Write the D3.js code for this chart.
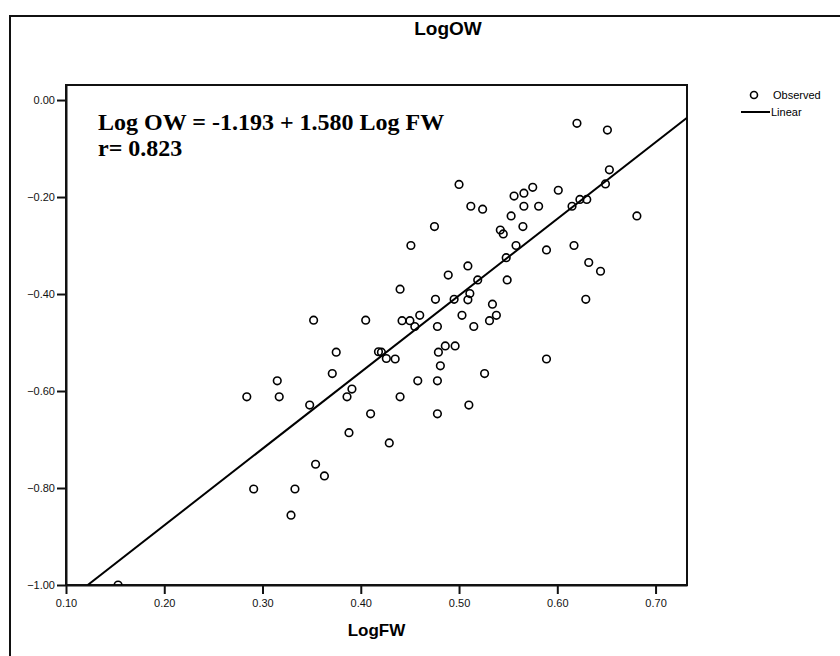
<!DOCTYPE html>
<html>
<head>
<meta charset="utf-8">
<script src="https://cdn.jsdelivr.net/npm/d3@7"></script>
<style>
    body { margin: 0; background: #fff; }
    .axis text { font-family: 'Liberation Sans', Arial, sans-serif; font-size: 11px; fill: #111; }
    .axis path, .axis line { stroke: #111; stroke-width: 2px; }
</style>
</head>
<body>
<div id="chart"></div>
<script>
const logFW = [0.620, 0.651, 0.500, 0.653, 0.649, 0.601, 0.575, 0.566, 0.556, 0.512,
    0.524, 0.566, 0.581, 0.615, 0.623, 0.630, 0.553, 0.681, 0.475, 0.565,
    0.542, 0.545, 0.451, 0.558, 0.589, 0.617, 0.548, 0.632, 0.644, 0.509,
    0.489, 0.519, 0.549, 0.440, 0.476, 0.495, 0.511, 0.509, 0.629, 0.534,
    0.538, 0.531, 0.503, 0.515, 0.478, 0.460, 0.450, 0.442, 0.455, 0.352,
    0.405, 0.375, 0.418, 0.421, 0.426, 0.435, 0.315, 0.371, 0.284, 0.317,
    0.348, 0.391, 0.386, 0.440, 0.410, 0.388, 0.429, 0.354, 0.363, 0.291,
    0.333, 0.329, 0.153, 0.486, 0.496, 0.479, 0.481, 0.589, 0.458, 0.478,
    0.526, 0.510, 0.478]
const logOW = [-0.048, -0.062, -0.174, -0.144, -0.173, -0.186, -0.180, -0.192, -0.198, -0.219,
    -0.225, -0.219, -0.219, -0.219, -0.205, -0.205, -0.239, -0.239, -0.261, -0.261,
    -0.268, -0.276, -0.300, -0.300, -0.309, -0.300, -0.325, -0.335, -0.353, -0.342,
    -0.361, -0.371, -0.371, -0.390, -0.411, -0.411, -0.399, -0.412, -0.411, -0.421,
    -0.444, -0.455, -0.444, -0.467, -0.467, -0.444, -0.455, -0.455, -0.467, -0.454,
    -0.454, -0.520, -0.519, -0.520, -0.533, -0.534, -0.579, -0.564, -0.612, -0.612,
    -0.629, -0.596, -0.612, -0.612, -0.647, -0.686, -0.707, -0.751, -0.775, -0.802,
    -0.802, -0.856, -1.000, -0.507, -0.507, -0.520, -0.548, -0.534, -0.579, -0.579,
    -0.564, -0.629, -0.647]

// linear fit shown on the chart
const intercept = -1.193
const slope = 1.580
const r = 0.823

const xTicks = [0.10, 0.20, 0.30, 0.40, 0.50, 0.60, 0.70]
const yTicks = [0.00, -0.20, -0.40, -0.60, -0.80, -1.00]

const data = logFW.map((d, i) => ({ fw: d, ow: logOW[i] }))

const margin = { top: 85, right: 153, bottom: 71, left: 66 }
const width = 840 - margin.left - margin.right
const height = 656 - margin.top - margin.bottom

const root = d3.select('#chart')
    .append('svg')
    .attr('width', 840)
    .attr('height', 656)

//outer frame
root.append('rect')
    .attr('x', 10)
    .attr('y', 16)
    .attr('width', 840)
    .attr('height', 700)
    .attr('fill', 'none')
    .attr('stroke', '#111')
    .attr('stroke-width', 2)

const svg = root.append('g')
    .attr('transform', `translate(${margin.left}, ${margin.top})`)

const xScale = d3.scaleLinear().domain([0.10, 0.732]).range([0, width])
const yScale = d3.scaleLinear().domain([-1.00, 0.031]).range([height, 0])

svg.append('clipPath')
    .attr('id', 'plot-clip')
    .append('rect')
    .attr('width', width)
    .attr('height', height)

//append xaxis to chart
svg.append('g')
    .attr('class', 'axis')
    .attr('transform', 'translate(0,' + height + ')')
    .call(d3.axisBottom(xScale).tickValues(xTicks).tickFormat(d3.format('.2f')).tickSize(9).tickSizeOuter(0).tickPadding(5))

//append yaxis to chart
svg.append('g')
    .attr('class', 'axis')
    .call(d3.axisLeft(yScale).tickValues(yTicks).tickFormat(d3.format('.2f')).tickSize(9).tickSizeOuter(0).tickPadding(2))

//plot frame
svg.append('rect')
    .attr('width', width)
    .attr('height', height)
    .attr('fill', 'none')
    .attr('stroke', '#111')
    .attr('stroke-width', 2)

//fit line
const x0 = (-1.00 - intercept) / slope
const x1 = 0.732
svg.append('path')
    .datum([x0, x1])
    .attr('clip-path', 'url(#plot-clip)')
    .attr('fill', 'none')
    .attr('stroke', '#000')
    .attr('stroke-width', 2)
    .attr('d', d3.line().x(d => xScale(d)).y(d => yScale(intercept + slope * d)))

//observed points
svg.append('g')
    .attr('clip-path', 'url(#plot-clip)')
    .selectAll('circle')
    .data(data)
    .join('circle')
    .attr('cx', d => xScale(d.fw))
    .attr('cy', d => yScale(d.ow))
    .attr('r', 3.8)
    .attr('fill', 'none')
    .attr('stroke', '#000')
    .attr('stroke-width', 1.6)

//equation text
svg.append('text')
    .attr('x', 32)
    .attr('y', 45)
    .style('font-family', "'Liberation Serif', 'Times New Roman', serif")
    .style('font-weight', 'bold')
    .style('font-size', '24px')
    .text(`Log OW = ${intercept} + ${slope.toFixed(3)} Log FW`)

svg.append('text')
    .attr('x', 32)
    .attr('y', 71)
    .style('font-family', "'Liberation Serif', 'Times New Roman', serif")
    .style('font-weight', 'bold')
    .style('font-size', '24px')
    .text(`r= ${r}`)

//append title
root.append('text')
    .attr('x', 448)
    .attr('y', 35)
    .attr('text-anchor', 'middle')
    .style('font-family', "'Liberation Sans', Arial, sans-serif")
    .style('font-weight', 'bold')
    .style('font-size', '19px')
    .text('LogOW')

//append x label
root.append('text')
    .attr('x', margin.left + width / 2)
    .attr('y', 636)
    .attr('text-anchor', 'middle')
    .style('font-family', "'Liberation Sans', Arial, sans-serif")
    .style('font-weight', 'bold')
    .style('font-size', '17px')
    .text('LogFW')

//legend
const legend = root.append('g')
    .style('font-family', "'Liberation Sans', Arial, sans-serif")
    .style('font-size', '11px')

legend.append('circle')
    .attr('cx', 754)
    .attr('cy', 95)
    .attr('r', 3.5)
    .attr('fill', 'none')
    .attr('stroke', '#000')
    .attr('stroke-width', 1.6)

legend.append('text')
    .attr('x', 773)
    .attr('y', 99)
    .text('Observed')

legend.append('line')
    .attr('x1', 741)
    .attr('x2', 770)
    .attr('y1', 112)
    .attr('y2', 112)
    .attr('stroke', '#000')
    .attr('stroke-width', 2)

legend.append('text')
    .attr('x', 771)
    .attr('y', 116)
    .text('Linear')
</script>
</body>
</html>
